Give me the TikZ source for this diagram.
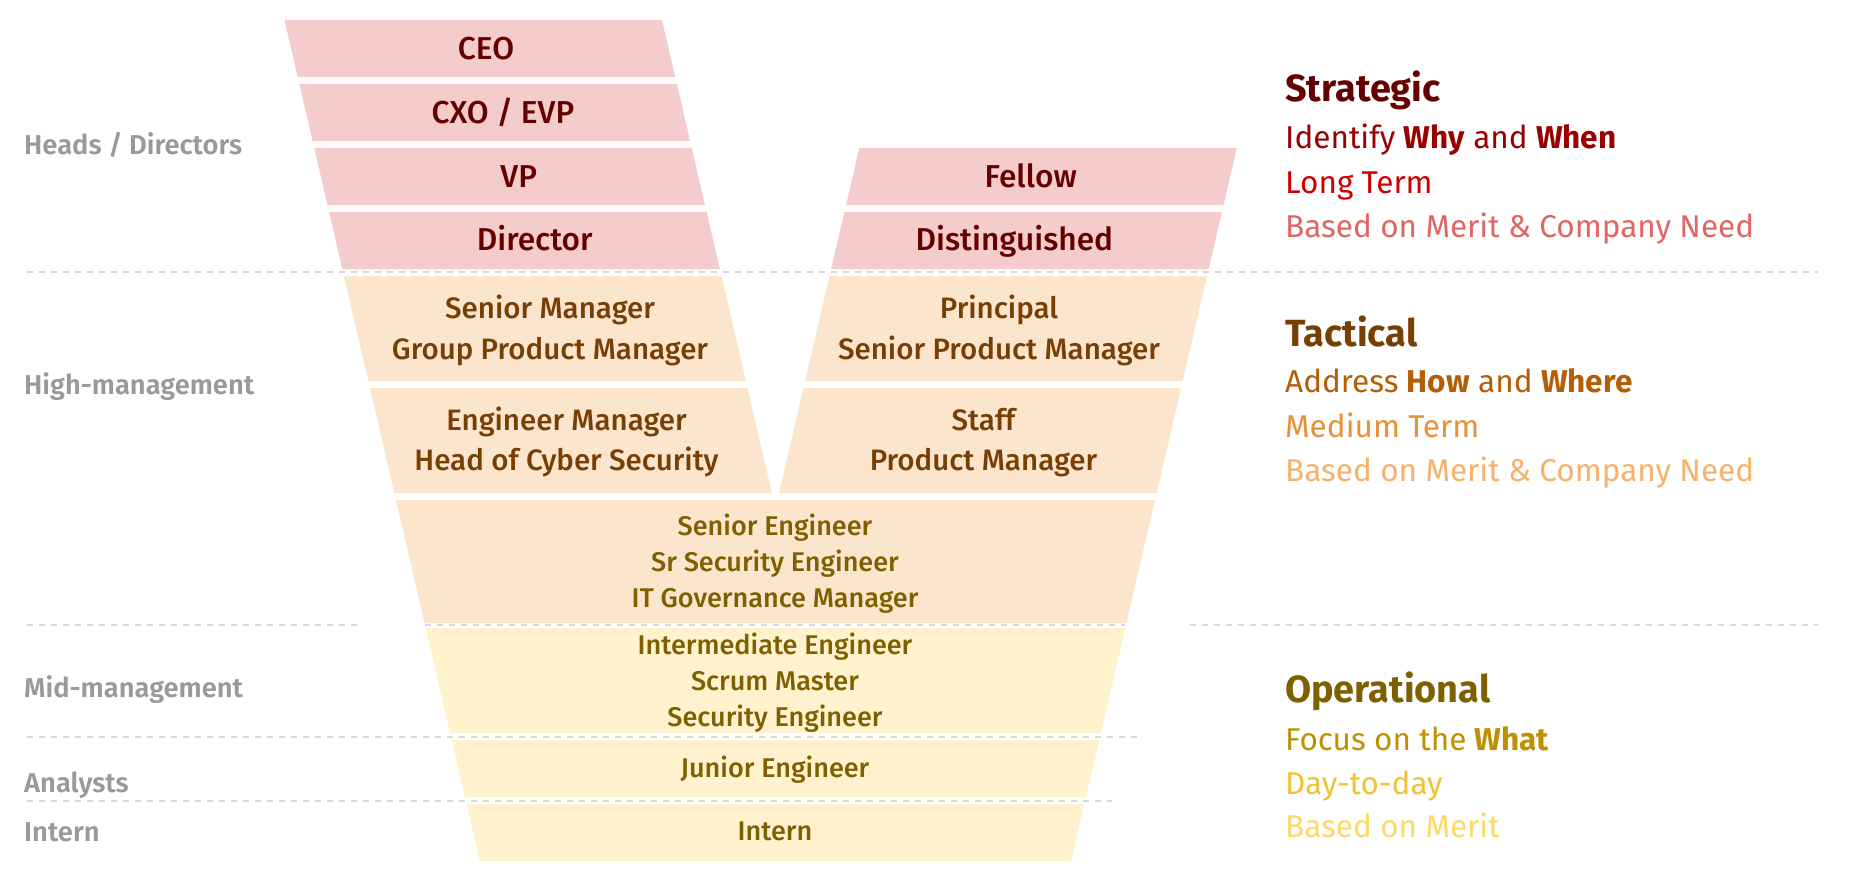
\documentclass[tikz,border=0pt]{standalone}
\usepackage{fontspec}
\setmainfont{Fira Sans}
\newfontfamily\fmed{Fira Sans Medium}
\newfontfamily\fsemi{Fira Sans SemiBold}

\definecolor{pinkfill}{HTML}{F4CCCC}
\definecolor{orangefill}{HTML}{FCE5CD}
\definecolor{yellowfill}{HTML}{FFF2CC}
\definecolor{redA}{HTML}{660000}
\definecolor{redB}{HTML}{990000}
\definecolor{redC}{HTML}{CC0000}
\definecolor{redD}{HTML}{E06666}
\definecolor{orangeA}{HTML}{783F04}
\definecolor{orangeB}{HTML}{B45F06}
\definecolor{orangeC}{HTML}{E69138}
\definecolor{orangeD}{HTML}{F6B26B}
\definecolor{yellowA}{HTML}{7F6000}
\definecolor{yellowB}{HTML}{BF9000}
\definecolor{yellowC}{HTML}{F1C232}
\definecolor{yellowD}{HTML}{FFD966}
\definecolor{levelgray}{HTML}{999999}
\definecolor{rulegray}{HTML}{D9D9D9}

% font size chosen so that a reference string gets a given width
\newlength\fitlen
\newcommand\fitfont[4]{%
  \settowidth\fitlen{#2\fontsize{10pt}{12pt}\selectfont #4}%
  \ifdim\fitlen<1pt \fitlen=100pt\fi
  \pgfmathsetmacro#1{10*#3/\fitlen}}

% slanted band: edges are x = c +/- slope*(y-20)
\newcommand\slope{0.2323}
\newcommand\band[7]{%
  \fill[#1] ({#2#3\slope*(#6-20)},#6) -- ({#4#5\slope*(#6-20)},#6)
    -- ({#4#5\slope*(#7-20)},#7) -- ({#2#3\slope*(#7-20)},#7) -- cycle;}

\begin{document}
\fitfont{\szTop}{\fmed}{197.4}{Distinguished}%
\fitfont{\szMid}{\fmed}{321.8}{Senior Product Manager}%
\fitfont{\szLow}{\fmed}{274.7}{Intermediate Engineer}%
\fitfont{\szLvl}{\fsemi}{230}{High-management}%
\fitfont{\szHead}{\bfseries}{205}{Operational}%
\fitfont{\szBody}{}{469}{Based on Merit \& Company Need}%
\begin{tikzpicture}[x=1pt,y=-1pt]
\tikzset{
  txt/.style={inner sep=0pt, anchor=base},
  toptxt/.style={txt, text=redA, font=\fmed\fontsize{\szTop pt}{\szTop pt}\selectfont},
  midtxt/.style={txt, text=orangeA, font=\fmed\fontsize{\szMid pt}{\szMid pt}\selectfont},
  lowtxt/.style={txt, text=yellowA, font=\fmed\fontsize{\szLow pt}{\szLow pt}\selectfont},
  lvltxt/.style={inner sep=0pt, anchor=base west, text=levelgray, font=\fsemi\fontsize{\szLvl pt}{\szLvl pt}\selectfont},
  headtxt/.style={inner sep=0pt, anchor=base west, font=\bfseries\fontsize{\szHead pt}{\szHead pt}\selectfont},
  bodytxt/.style={inner sep=0pt, anchor=base west, font=\fontsize{\szBody pt}{\szBody pt}\selectfont},
  rule/.style={draw=rulegray, line width=2pt, dash pattern=on 6pt off 6pt},
}
\useasboundingbox (0,0) rectangle (1850,888);
\fill[white] (0,0) rectangle (1850,888);

% level separators
\draw[rule] (27,272) -- (1818,272);
\draw[rule] (27,624.5) -- (357,624.5);
\draw[rule] (425,624.5) -- (1125,624.5);
\draw[rule] (1190,624.5) -- (1818,624.5);
\draw[rule] (27,736.7) -- (1139,736.7);
\draw[rule] (27,801) -- (1112,801);

% left branch (management)
\band{pinkfill}{284.5}{+}{662}{+}{20}{77}
\band{pinkfill}{284.5}{+}{662}{+}{84}{141}
\band{pinkfill}{284.5}{+}{662}{+}{148}{205}
\band{pinkfill}{284.5}{+}{662}{+}{212}{269}
\band{orangefill}{284.5}{+}{662}{+}{276}{381}
\band{orangefill}{284.5}{+}{662}{+}{388}{493}
% right branch (individual contributors)
\band{pinkfill}{889}{-}{1266.5}{-}{148}{205}
\band{pinkfill}{889}{-}{1266.5}{-}{212}{269}
\band{orangefill}{889}{-}{1266.5}{-}{276}{381}
\band{orangefill}{889}{-}{1266.5}{-}{388}{493}
% shared trunk
\band{orangefill}{284.5}{+}{1266.5}{-}{500}{623}
\band{yellowfill}{284.5}{+}{1266.5}{-}{628}{733}
\band{yellowfill}{284.5}{+}{1266.5}{-}{740}{797}
\band{yellowfill}{284.5}{+}{1266.5}{-}{804}{861}

% role labels
\node[toptxt] (ceo) at (486,59.3) {CEO};
\node[toptxt] (cxo) at (503,123.3) {CXO / EVP};
\node[toptxt] (vp) at (518.7,187) {VP};
\node[toptxt] (dir) at (534.7,250.7) {Director};
\node[toptxt] (fellow) at (1030.7,187) {Fellow};
\node[toptxt] (dist) at (1014.4,250.5) {Distinguished};

\node[midtxt] (sm1) at (550,318.3) {Senior Manager};
\node[midtxt] (sm2) at (550,359) {Group Product Manager};
\node[midtxt] (em1) at (566.5,430) {Engineer Manager};
\node[midtxt] (em2) at (566.5,470.7) {Head of Cyber Security};
\node[midtxt] (pr1) at (999,318.3) {Principal};
\node[midtxt] (pr2) at (999,359) {Senior Product Manager};
\node[midtxt] (st1) at (983.5,430) {Staff};
\node[midtxt] (st2) at (983.5,470.7) {Product Manager};

\node[lowtxt] (se1) at (775,535) {Senior Engineer};
\node[lowtxt] (se2) at (775,571.7) {Sr Security Engineer};
\node[lowtxt] (se3) at (775,607.7) {IT Governance Manager};
\node[lowtxt] (ie1) at (775,654) {Intermediate Engineer};
\node[lowtxt] (ie2) at (775,690) {Scrum Master};
\node[lowtxt] (ie3) at (775,726.7) {Security Engineer};
\node[lowtxt] (jr) at (775,777.3) {Junior Engineer};
\node[lowtxt] (in) at (775,840.7) {Intern};

% level names
\node[lvltxt] (lvlheads) at (24,154) {Heads / Directors};
\node[lvltxt] (lvlhigh) at (24,394) {High-management};
\node[lvltxt] (lvlmid) at (24,697.7) {Mid-management};
\node[lvltxt] (lvlanalysts) at (24,792.3) {Analysts};
\node[lvltxt] (lvlintern) at (24,841.3) {Intern};

% horizon descriptions
\node[headtxt, text=redA] (strat) at (1285,101.5) {Strategic};
\node[bodytxt, text=redB] (strat1) at (1285,149) {Identify \textbf{Why} and \textbf{When}};
\node[bodytxt, text=redC] (strat2) at (1285,193.7) {Long Term};
\node[bodytxt, text=redD] (strat3) at (1285,237) {Based on Merit \& Company Need};

\node[headtxt, text=orangeA] (tact) at (1285,346.7) {Tactical};
\node[bodytxt, text=orangeB] (tact1) at (1285,392.7) {Address \textbf{How} and \textbf{Where}};
\node[bodytxt, text=orangeC] (tact2) at (1285,437.3) {Medium Term};
\node[bodytxt, text=orangeD] (tact3) at (1285,481.7) {Based on Merit \& Company Need};

\node[headtxt, text=yellowA] (oper) at (1285,702.7) {Operational};
\node[bodytxt, text=yellowB] (oper1) at (1285,750) {Focus on the \textbf{What}};
\node[bodytxt, text=yellowC] (oper2) at (1285,794.3) {Day-to-day};
\node[bodytxt, text=yellowD] (oper3) at (1285,837.7) {Based on Merit};
\end{tikzpicture}
\end{document}
